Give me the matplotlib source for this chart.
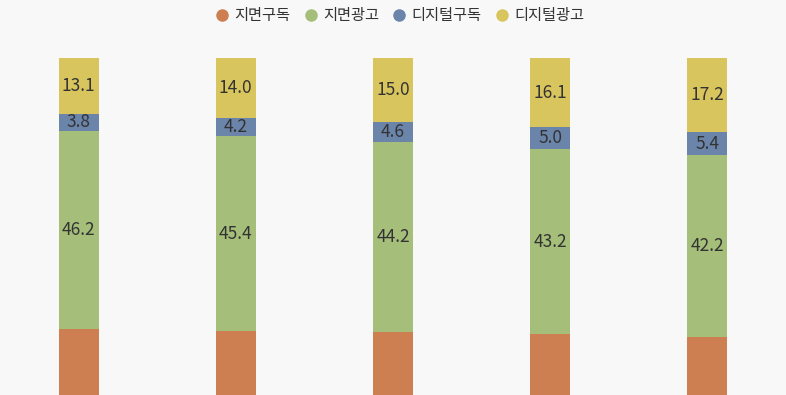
import numpy as np
import matplotlib
matplotlib.use("Agg")
import matplotlib.pyplot as plt

plt.rcParams['font.family'] = ['Noto Sans CJK KR', 'DejaVu Sans']

years = ['1', '2', '3', '4', '5']
series = ['지면구독', '지면광고', '디지털구독', '디지털광고']
print_sub = [36.9, 36.4, 36.2, 35.7, 35.2]
print_ad = [46.2, 45.4, 44.2, 43.2, 42.2]
digital_sub = [3.8, 4.2, 4.6, 5.0, 5.4]
digital_ad = [13.1, 14.0, 15.0, 16.1, 17.2]
colors = ['#CD7F52', '#A5BF7A', '#6A84AA', '#D9C55E']

bg = '#F8F8F8'
fig = plt.figure(figsize=(7.86, 3.95), dpi=100, facecolor=bg)
ax = fig.add_axes([0, -0.2354, 1, 1.0886])
ax.set_facecolor(bg)

x = np.arange(len(years))
data = [print_sub, print_ad, digital_sub, digital_ad]
bottom = np.zeros(len(years))
for k, (vals, c, name) in enumerate(zip(data, colors, series)):
    vals = np.array(vals)
    ax.bar(x, vals, 0.255, bottom=bottom, color=c, label=name)
    if k > 0:
        for xi, b, v in zip(x, bottom, vals):
            ax.text(xi, b + v / 2, f'{v:.1f}', ha='center', va='center',
                    fontsize=12.5, color='#333333')
    bottom += vals

ax.set_xlim(-0.5, 4.5)
ax.set_ylim(0, 100)
ax.axis('off')

handles = [plt.Line2D([], [], marker='o', linestyle='', markersize=8,
                      color=c) for c in colors]
fig.legend(handles, series, loc='center', bbox_to_anchor=(0.509, 0.96),
           ncol=4, frameon=False, fontsize=11, handlelength=0.8,
           handletextpad=0.4, columnspacing=0.95, labelcolor='#333333')

fig.savefig('out.png', dpi=100, facecolor=bg)
